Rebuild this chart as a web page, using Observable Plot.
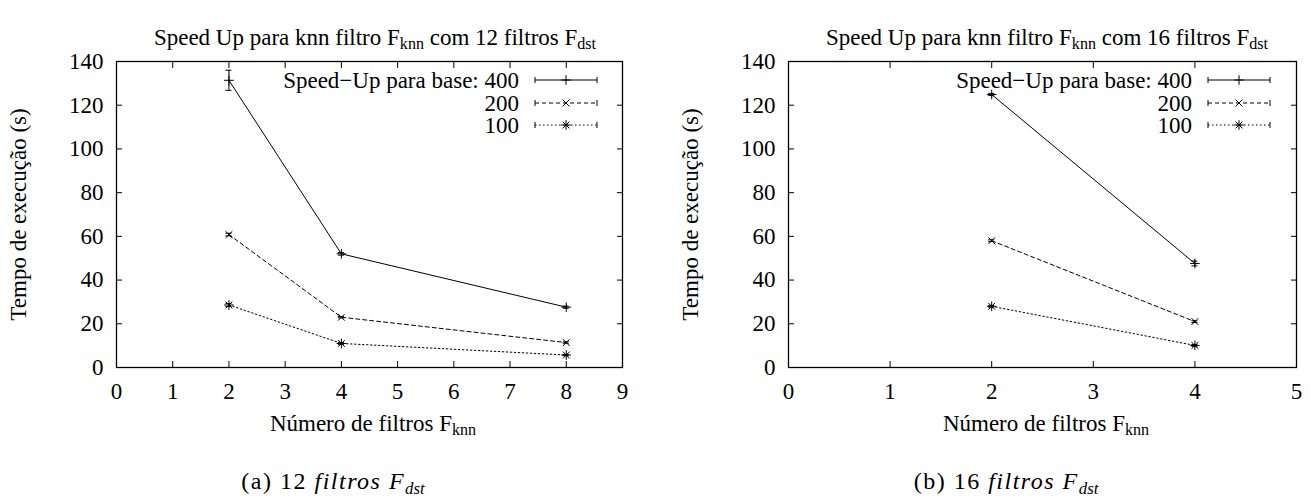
<!DOCTYPE html>
<html>
<head>
<meta charset="utf-8">
<script src="https://cdn.jsdelivr.net/npm/d3@7"></script>
<script src="https://cdn.jsdelivr.net/npm/@observablehq/plot@0.6"></script>
<style>
  html, body { margin: 0; padding: 0; background: #fff; }
  #wrap { position: relative; width: 1311px; height: 501px; overflow: hidden; font-family: "Liberation Serif", "Times New Roman", Tinos, "DejaVu Serif", serif; color: #000; }
  .panel { position: absolute; top: 0; height: 501px; }
  .panel svg { position: absolute; top: 50px; left: 0; }
  .ttl, .xl, .cap { position: absolute; white-space: nowrap; transform: translate(-50%, -50%); line-height: 1; }
  .ttl, .xl { font-size: 23px; }
  .cap { font-size: 24px; letter-spacing: 1.5px; }
  sub { font-size: 70%; vertical-align: -0.3em; line-height: 0; letter-spacing: 0; }
  .leg { position: absolute; font-size: 23px; line-height: 1; }
  .leg .lt { position: absolute; right: 0; transform: translateY(-50%); white-space: nowrap; }
  .leg svg { position: absolute; }
</style>
</head>
<body>
<div id="wrap"></div>
<script>
// ---- data ----
const xTicks12 = [0, 1, 2, 3, 4, 5, 6, 7, 8, 9];
const xTicks16 = [0, 1, 2, 3, 4, 5];
const yTicks = [0, 20, 40, 60, 80, 100, 120, 140];

const filtros12 = [2, 4, 8];
const base400_12 = [131.4, 52.0, 27.6];
const err400_12 = [4.6, 0.6, 0.5];
const base200_12 = [60.8, 23.0, 11.4];
const err200_12 = [0.6, 0.3, 0.3];
const base100_12 = [28.6, 11.0, 5.7];
const err100_12 = [0.7, 0.4, 0.3];

const filtros16 = [2, 4];
const base400_16 = [124.9, 47.6];
const err400_16 = [0.5, 1.1];
const base200_16 = [58.0, 21.0];
const err200_16 = [0.4, 0.4];
const base100_16 = [28.0, 10.1];
const err100_16 = [0.4, 0.4];

const seriesNames = ["400", "200", "100"];
const legendLabels = ["Speed\u2212Up para base: 400", "200", "100"];
const titles = ["Speed Up para knn filtro F<sub>knn</sub> com 12 filtros F<sub>dst</sub>",
                "Speed Up para knn filtro F<sub>knn</sub> com 16 filtros F<sub>dst</sub>"];
const xLabel = "Número de filtros F<sub>knn</sub>";
const yLabel = "Tempo de execução (s)";
const captions = ["(a) 12 <i>filtros F<sub>dst</sub></i>", "(b) 16 <i>filtros F<sub>dst</sub></i>"];

const FONT = "'Liberation Serif', 'Times New Roman', Tinos, 'DejaVu Serif', serif";

// ---- styles per series ----
const styles = {
  "400": {dash: null, symbols: ["plus"]},
  "200": {dash: "4,3", symbols: ["times"]},
  "100": {dash: "1.5,2.5", symbols: ["plus", "times"]}
};

function buildData(xs, vals, errs) {
  return seriesNames.flatMap((s, k) => xs.map((x, i) => ({
    series: s, x, y: vals[k][i], lo: vals[k][i] - errs[k][i], hi: vals[k][i] + errs[k][i]
  })));
}

const wrap = document.getElementById("wrap");

function panel(cfg) {
  const div = document.createElement("div");
  div.className = "panel";
  div.style.left = cfg.left + "px";
  div.style.width = cfg.width + "px";
  wrap.appendChild(div);

  const data = buildData(cfg.xs, cfg.vals, cfg.errs);
  const marks = [
    Plot.frame({stroke: "black", strokeWidth: 1.3}),
    Plot.axisX({anchor: "bottom", ticks: cfg.xTicks, tickSize: -6, tickPadding: 21, label: null, tickFormat: d => String(d)}),
    Plot.axisX({anchor: "top", ticks: cfg.xTicks, tickSize: -6, tickFormat: () => "", label: null}),
    Plot.axisY({anchor: "left", ticks: yTicks, tickSize: -6, tickPadding: 19, label: yLabel,
                labelAnchor: "center", labelArrow: "none", labelOffset: cfg.labelOffset, tickFormat: d => String(d)}),
    Plot.axisY({anchor: "right", ticks: yTicks, tickSize: -6, tickFormat: () => "", label: null})
  ];
  for (const s of seriesNames) {
    const d = data.filter(r => r.series === s);
    const st = styles[s];
    marks.push(Plot.line(d, {x: "x", y: "y", stroke: "black", strokeWidth: 1, strokeDasharray: st.dash || undefined}));
    marks.push(Plot.ruleX(d, {x: "x", y1: "lo", y2: "hi", stroke: "black", strokeWidth: 1}));
    marks.push(Plot.ruleY(d, {y: "lo", x1: "x", x2: "x", insetLeft: -3, insetRight: -3, stroke: "black", strokeWidth: 1}));
    marks.push(Plot.ruleY(d, {y: "hi", x1: "x", x2: "x", insetLeft: -3, insetRight: -3, stroke: "black", strokeWidth: 1}));
    for (const sym of st.symbols) {
      marks.push(Plot.dot(d, {x: "x", y: "y", symbol: sym, r: 3.2, stroke: "black", strokeWidth: 1}));
    }
  }
  const chart = Plot.plot({
    width: cfg.width,
    height: 360,
    marginTop: 11,
    marginBottom: 43,
    marginLeft: cfg.marginLeft,
    marginRight: cfg.marginRight,
    style: {fontFamily: FONT, fontSize: "23px", color: "black", background: "white", overflow: "visible"},
    x: {domain: [0, cfg.xTicks[cfg.xTicks.length - 1]]},
    y: {domain: [0, 140]},
    marks
  });
  div.appendChild(chart);

  const t = document.createElement("div");
  t.className = "ttl"; t.innerHTML = cfg.title;
  t.style.left = cfg.titleX + "px"; t.style.top = "37px";
  div.appendChild(t);

  const xl = document.createElement("div");
  xl.className = "xl"; xl.innerHTML = xLabel;
  xl.style.left = cfg.xLabelX + "px"; xl.style.top = "423px";
  div.appendChild(xl);

  const c = document.createElement("div");
  c.className = "cap"; c.innerHTML = cfg.caption;
  c.style.left = cfg.capX + "px"; c.style.top = "481px";
  div.appendChild(c);

  // legend (key at top right, gnuplot style)
  const rowsY = [80, 102.5, 125];
  seriesNames.forEach((s, k) => {
    const lg = document.createElement("div");
    lg.className = "leg";
    lg.style.left = "0px"; lg.style.top = rowsY[k] + "px"; lg.style.width = cfg.legTextRight + "px";
    const lt = document.createElement("span");
    lt.className = "lt"; lt.textContent = legendLabels[k];
    lg.appendChild(lt);
    div.appendChild(lg);
    const st = styles[s];
    const svg = d3.create("svg").attr("width", 64).attr("height", 12)
      .style("position", "absolute").style("left", (cfg.legTextRight + 15) + "px").style("top", (rowsY[k] - 6) + "px");
    svg.append("line").attr("x1", 1).attr("x2", 63).attr("y1", 6).attr("y2", 6)
      .attr("stroke", "black").attr("stroke-width", 1).attr("stroke-dasharray", st.dash);
    for (const xx of [1, 63]) svg.append("line").attr("x1", xx).attr("x2", xx).attr("y1", 3).attr("y2", 9).attr("stroke", "black");
    for (const sym of st.symbols) {
      const sy = sym === "plus" ? d3.symbolPlus : d3.symbolTimes;
      svg.append("path").attr("d", d3.symbol(sy, Math.PI * 3.2 * 3.2)()).attr("transform", "translate(32,6)")
        .attr("fill", "none").attr("stroke", "black");
    }
    div.appendChild(svg.node());
  });
}

panel({left: 0, width: 655, marginLeft: 116, marginRight: 33, xTicks: xTicks12, xs: filtros12,
       vals: [base400_12, base200_12, base100_12], errs: [err400_12, err200_12, err100_12],
       labelOffset: 107, title: titles[0], titleX: 375, xLabelX: 373, caption: captions[0], capX: 333,
       legTextRight: 519});
panel({left: 655, width: 656, marginLeft: 133, marginRight: 15, xTicks: xTicks16, xs: filtros16,
       vals: [base400_16, base200_16, base100_16], errs: [err400_16, err200_16, err100_16],
       labelOffset: 107, title: titles[1], titleX: 392, xLabelX: 391, caption: captions[1], capX: 351,
       legTextRight: 537});
</script>
</body>
</html>
